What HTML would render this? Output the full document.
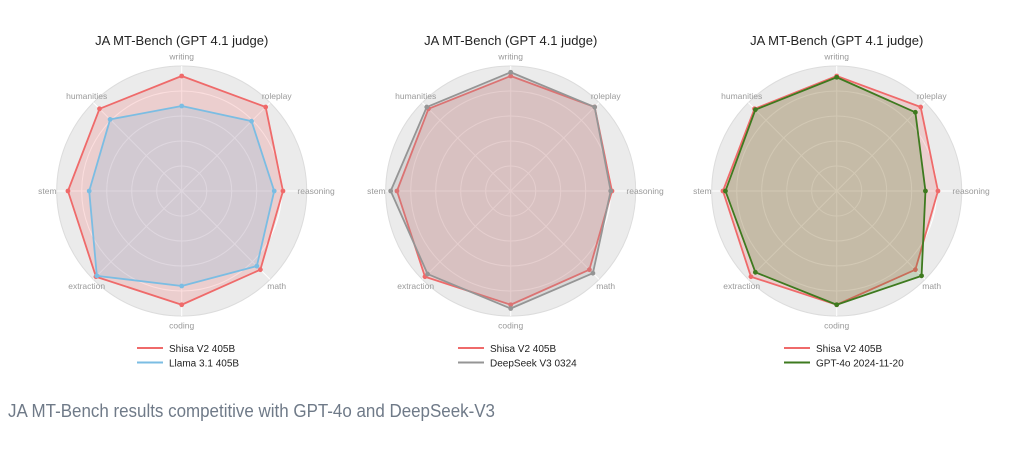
<!DOCTYPE html>
<html><head><meta charset="utf-8"><style>
html,body{margin:0;padding:0;background:#fff;}
svg{display:block;font-family:"Liberation Sans",sans-serif;}
</style></head><body>
<svg id="root" width="1024" height="450" viewBox="0 0 1024 450">
<text x="8" y="417" font-size="18" fill="#6f7a88" textLength="487" lengthAdjust="spacingAndGlyphs">JA MT-Bench results competitive with GPT-4o and DeepSeek-V3</text>
</svg>
<script>
const categories = ["writing","roleplay","reasoning","math","coding","extraction","stem","humanities"];
const shisaValues = [9.2,9.5,8.1,8.9,9.1,9.7,9.1,9.3];
const llamaValues = [6.8,7.9,7.4,8.5,7.6,9.6,7.4,8.1];
const deepseekValues = [9.5,9.5,8.0,9.3,9.4,9.4,9.6,9.5];
const gptValues = [9.1,8.9,7.1,9.6,9.1,9.2,8.9,9.2];
const gridTicks = [2,4,6,8,10];
const maxValue = 10;

const NS = "http://www.w3.org/2000/svg";
const root = document.getElementById("root");
function mk(tag, attrs, parent){const e=document.createElementNS(NS,tag);for(const k in attrs)e.setAttribute(k,attrs[k]);(parent||root).appendChild(e);return e;}

const charts = [
  {cx:181.7, lx:137, other:{name:"Llama 3.1 405B", vals:llamaValues, color:"#7bbde3", key:"llama"}},
  {cx:510.7, lx:458, other:{name:"DeepSeek V3 0324", vals:deepseekValues, color:"#959595", key:"deepseek"}},
  {cx:836.7, lx:784, other:{name:"GPT-4o 2024-11-20", vals:gptValues, color:"#3e7a1f", key:"gpt4o"}}
];
const cy = 191, R = 125;
function rScale(v){return v/maxValue*R;}
function pt(cx,i,v){const a=-Math.PI/2+i*2*Math.PI/categories.length;const r=rScale(v);return [cx+r*Math.cos(a), cy+r*Math.sin(a)];}

charts.forEach((c,ci)=>{
  const g = mk("g",{});
  
  
  const t = mk("text",{x:c.cx,y:45,"font-size":13,"text-anchor":"middle",fill:"#222"},g);
  
  
  t.textContent = "JA MT-Bench (GPT 4.1 judge)";
  const bg = mk("circle",{cx:c.cx,cy:cy,r:R,fill:"#ebebeb",stroke:"#dcdcdc","stroke-width":1},g);
  
  
  gridTicks.slice(0,-1).forEach(v=>{
    const ring = mk("circle",{cx:c.cx,cy:cy,r:rScale(v),fill:"none",stroke:"#fff","stroke-width":1},g);
    
    
  });
  categories.forEach((cat,i)=>{
    const p = pt(c.cx,i,maxValue);
    const sp = mk("line",{x1:c.cx,y1:cy,x2:p[0],y2:p[1],stroke:"#fff","stroke-width":1},g);
    
    
    const lp = pt(c.cx,i,maxValue*1.075);
    const lb = mk("text",{x:lp[0],y:lp[1]+3,"font-size":8.5,"text-anchor":"middle",fill:"#9a9a9a"},g);
    
    
    lb.textContent = cat;
  });
  const series = [{name:"Shisa V2 405B", vals:shisaValues, color:"#ef6a6a", key:"shisa"}, c.other];
  const order = ci===2 ? [0,1] : [0,1];
  order.forEach(si=>{
    const s = series[si];
    const pts = s.vals.map((v,i)=>pt(c.cx,i,v));
    const poly = mk("polygon",{points:pts.map(p=>p.join(",")).join(" "),fill:s.color,"fill-opacity":0.22,stroke:s.color,"stroke-width":1.8,"stroke-linejoin":"round"},g);
    
    
    pts.forEach((p,i)=>{
      const d = mk("circle",{cx:p[0],cy:p[1],r:2.4,fill:s.color},g);
      
      
    });
  });
  series.forEach((s,si)=>{
    const y = 348+si*14.5;
    const lg = mk("g",{},g);
    
    
    mk("line",{x1:c.lx,y1:y,x2:c.lx+26,y2:y,stroke:s.color,"stroke-width":2},lg);
    const lt = mk("text",{x:c.lx+32,y:y+4,"font-size":10,fill:"#222"},lg);
    lt.textContent = s.name;
  });
});
</script>
</body></html>
